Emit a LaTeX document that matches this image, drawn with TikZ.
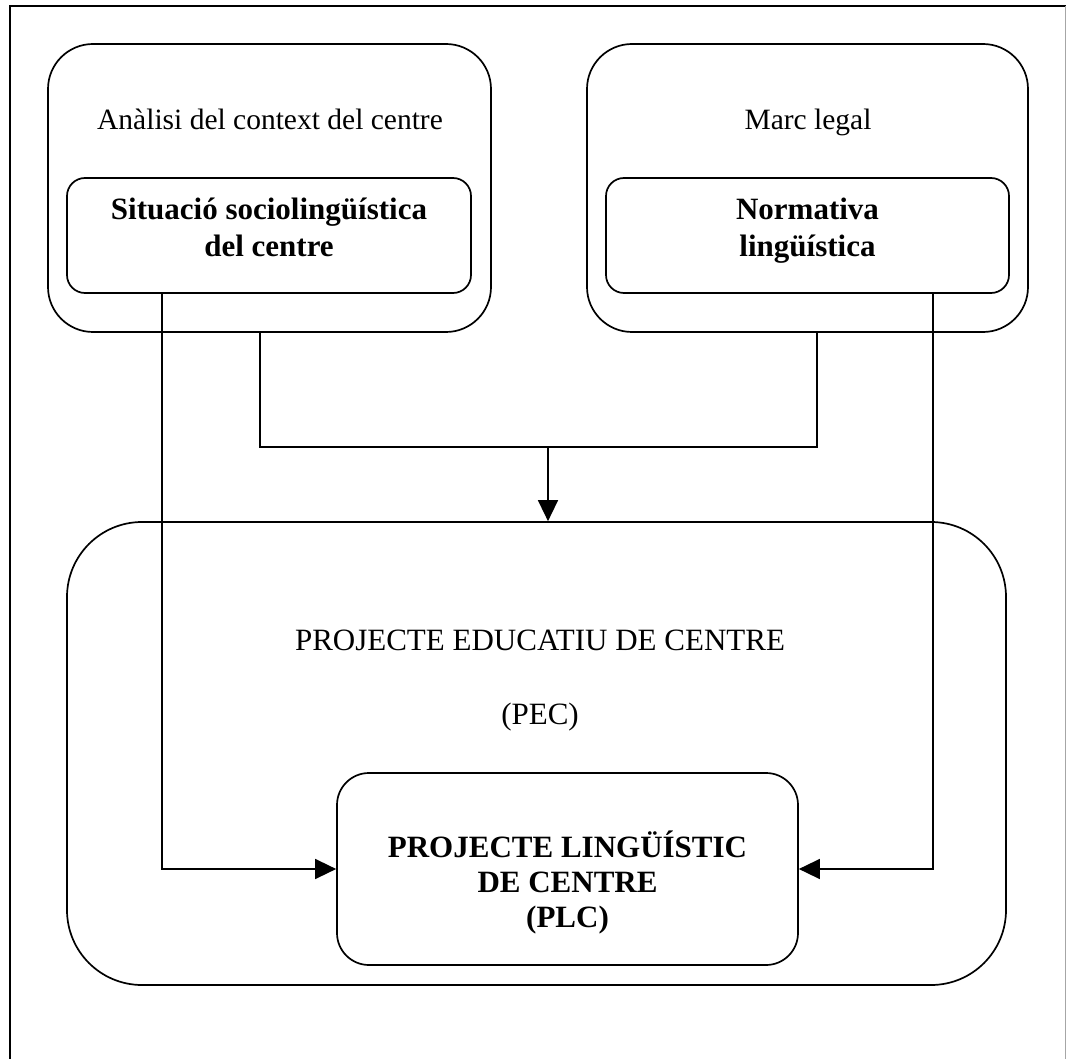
\documentclass[tikz,border=0pt]{standalone}
\usepackage{fontspec}
\setmainfont{Liberation Serif}
\usetikzlibrary{arrows.meta}
\begin{document}
\begin{tikzpicture}[x=1pt,y=-1pt,
  box/.style={draw,line width=1.7pt,inner sep=0pt},
  outerbox/.style={box,rounded corners=45pt,minimum width=443pt,minimum height=288pt},
  innerbox/.style={box,rounded corners=18pt,minimum width=404pt,minimum height=115pt},
  plain/.style={font=\fontsize{29.5}{36}\selectfont,anchor=base,inner sep=0pt},
  heavy/.style={font=\fontsize{31}{36}\selectfont\bfseries,anchor=base,inner sep=0pt},
  conn/.style={line width=1.5pt},
  tip/.style={-{Triangle[length=21pt,width=20pt]}}]
\useasboundingbox (0,0) rectangle (1066,1059);
% page frame, open at the bottom
\draw[line width=1.7pt] (10,1059) -- (10,6) -- (1066,6);
\draw[line width=0.8pt,black!35] (1065,6) -- (1065,1059);

% upper boxes
\node[outerbox] (tlOut) at (269.5,188) {};
\node[innerbox] (tlIn) at (269,235.5) {};
\node[outerbox,minimum width=441pt] (trOut) at (807.5,188) {};
\node[innerbox,minimum width=403pt] (trIn) at (807.5,235.5) {};

\node[plain] (tlTitle) at (270,130) {Anàlisi del context del centre};
\node[heavy] (tlA) at (269,220) {Situació sociolingüística};
\node[heavy] (tlB) at (269,257) {del centre};

\node[plain] (trTitle) at (808,130) {Marc legal};
\node[heavy] (trA) at (807.5,220) {Normativa};
\node[heavy] (trB) at (807.5,257) {lingüística};

% lower boxes
\node[box,rounded corners=75pt,minimum width=939pt,minimum height=463pt] (pec) at (536.5,753.5) {};
\node[plain,font=\fontsize{31}{36}\selectfont] (pecA) at (540,650) {PROJECTE EDUCATIU DE CENTRE};
\node[plain,font=\fontsize{31}{36}\selectfont] (pecB) at (540,724) {(PEC)};

\node[box,rounded corners=32pt,minimum width=461pt,minimum height=192pt] (plc) at (567.5,869) {};
\node[heavy] (plcA) at (567.5,857) {PROJECTE LINGÜÍSTIC};
\node[heavy] (plcB) at (567.5,892) {DE CENTRE};
\node[heavy] (plcC) at (567.5,927) {(PLC)};

% connectors
\coordinate (join) at (548,447);
\draw[conn] ([xshift=-9.5pt]tlOut.south) |- (join) -| ([xshift=9.5pt]trOut.south);
\draw[conn,tip] (join) -- (join |- pec.north);
\draw[conn,tip] ([xshift=96pt]tlIn.south west) |- (plc.west);
\draw[conn,tip] ([xshift=-77pt]trIn.south east) |- (plc.east);
\end{tikzpicture}
\end{document}
